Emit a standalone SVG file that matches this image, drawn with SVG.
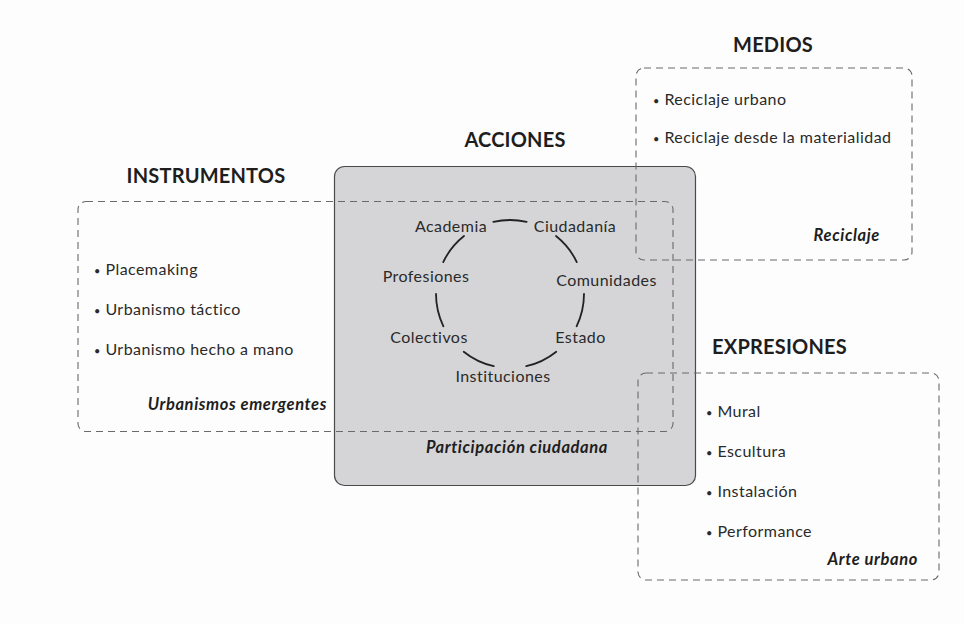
<svg xmlns="http://www.w3.org/2000/svg" width="964" height="624" viewBox="0 0 964 624">
  <style>
    .head { font-family: Lato, "Liberation Sans", sans-serif; font-weight: 700; font-size: 20px; letter-spacing: 0.2px; fill: #1e1e1e; text-anchor: middle; }
    .item { font-family: Lato, "Liberation Sans", sans-serif; font-size: 16px; letter-spacing: 0.45px; fill: #2a2a2a; }
    .dot { font-size: 11px; }
    .node { font-family: Lato, "Liberation Sans", sans-serif; font-size: 16px; letter-spacing: 0.45px; fill: #2a2a2a; text-anchor: middle; }
    .tag { font-family: Lato, "Liberation Sans", sans-serif; font-size: 16.5px; letter-spacing: 0.6px; font-weight: 700; font-style: italic; fill: #1e1e1e; text-anchor: end; }
    .dash { fill: none; stroke: #6a6a6a; stroke-width: 1.1; stroke-dasharray: 7 5; }
    .arc { fill: none; stroke: #222; stroke-width: 1.8; stroke-linecap: round; }
  </style>
  <rect width="964" height="624" fill="#fdfdfd"/>

  <!-- central panel: Acciones -->
  <g id="acciones">
    <rect x="334.5" y="166.5" width="361" height="319" rx="10" fill="#d5d5d7" stroke="#4a4a4a" stroke-width="1.2"/>
    <text class="head" x="515" y="147">ACCIONES</text>
    <text class="node" x="451" y="232">Academia</text>
    <text class="node" x="575" y="232">Ciudadanía</text>
    <text class="node" x="426" y="282">Profesiones</text>
    <text class="node" x="606.5" y="286">Comunidades</text>
    <text class="node" x="429" y="343">Colectivos</text>
    <text class="node" x="580.5" y="343">Estado</text>
    <text class="node" x="503" y="382">Instituciones</text>
    <text class="tag" x="608" y="453">Participación ciudadana</text>
  </g>

  <!-- ring connecting the actors -->
  <g id="connectors">
    <path class="arc" d="M493.35 221.9 A74 74 0 0 1 526.65 221.9"/>
    <path class="arc" d="M556.0 236.04 A74 74 0 0 1 576.76 262.06"/>
    <path class="arc" d="M584.0 293.82 A74 74 0 0 1 576.59 326.28"/>
    <path class="arc" d="M556.28 351.74 A74 74 0 0 1 526.28 366.19"/>
    <path class="arc" d="M493.72 366.19 A74 74 0 0 1 463.72 351.74"/>
    <path class="arc" d="M443.41 326.28 A74 74 0 0 1 436.0 293.82"/>
    <path class="arc" d="M443.24 262.06 A74 74 0 0 1 464.0 236.04"/>
  </g>

  <!-- Instrumentos -->
  <g id="instrumentos">
    <rect class="dash" x="78" y="201.5" width="595" height="230" rx="8"/>
    <text class="head" x="206" y="183">INSTRUMENTOS</text>
    <text class="item" x="94" y="275"><tspan class="dot">•</tspan> Placemaking</text>
    <text class="item" x="94" y="315"><tspan class="dot">•</tspan> Urbanismo táctico</text>
    <text class="item" x="94" y="355"><tspan class="dot">•</tspan> Urbanismo hecho a mano</text>
    <text class="tag" x="327" y="410">Urbanismos emergentes</text>
  </g>

  <!-- Medios -->
  <g id="medios">
    <rect class="dash" x="636" y="68" width="276" height="192" rx="8"/>
    <text class="head" x="773" y="52">MEDIOS</text>
    <text class="item" x="653" y="105"><tspan class="dot">•</tspan> Reciclaje urbano</text>
    <text class="item" x="653" y="143"><tspan class="dot">•</tspan> Reciclaje desde la materialidad</text>
    <text class="tag" x="880" y="241">Reciclaje</text>
  </g>

  <!-- Expresiones -->
  <g id="expresiones">
    <rect class="dash" x="638" y="373" width="301" height="207" rx="8"/>
    <text class="head" x="779.5" y="354">EXPRESIONES</text>
    <text class="item" x="706" y="417"><tspan class="dot">•</tspan> Mural</text>
    <text class="item" x="706" y="457"><tspan class="dot">•</tspan> Escultura</text>
    <text class="item" x="706" y="497"><tspan class="dot">•</tspan> Instalación</text>
    <text class="item" x="706" y="537"><tspan class="dot">•</tspan> Performance</text>
    <text class="tag" x="918" y="565">Arte urbano</text>
  </g>
</svg>
